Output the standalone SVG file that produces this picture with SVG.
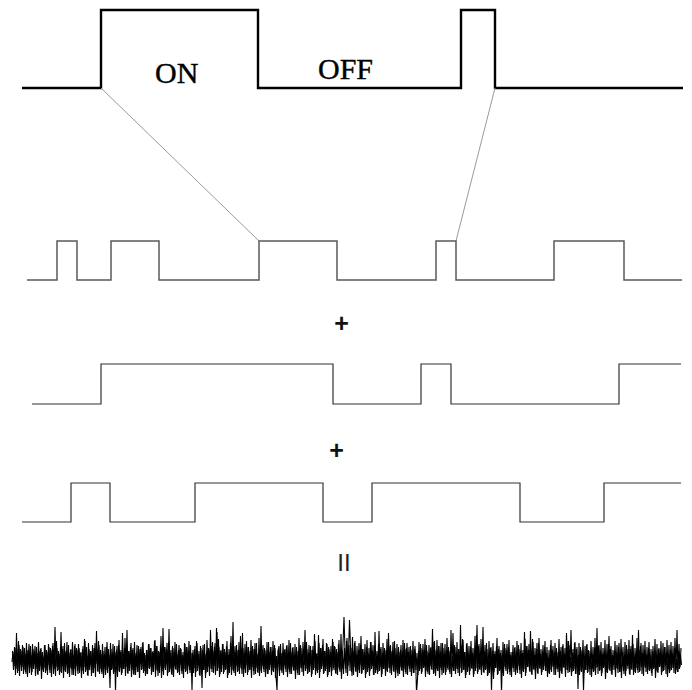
<svg xmlns="http://www.w3.org/2000/svg" width="692" height="690" viewBox="0 0 692 690">
  <style>
    .sig { fill: none; stroke-linejoin: miter; stroke-linecap: butt; }
    .main { stroke: #000; stroke-width: 2.4; }
    .comp1 { stroke: #5a5a5a; stroke-width: 1.5; }
    .comp { stroke: #333; stroke-width: 1.2; }
    .link { stroke: #9a9a9a; stroke-width: 1; fill: none; }
    .lbl { font-family: "Liberation Serif", "Times New Roman", serif; font-size: 30px; fill: #000; stroke: #000; stroke-width: 0.4; }
    .op { font-family: "Liberation Sans", Arial, sans-serif; font-size: 25px; font-weight: bold; fill: #111; text-anchor: middle; }
    .eq { font-family: "Liberation Sans", Arial, sans-serif; font-size: 24px; font-weight: normal; fill: #222; text-anchor: middle; }
    .trace { fill: none; stroke: #000; stroke-width: 1.1; stroke-linejoin: miter; }
  </style>
  <rect width="692" height="690" fill="#fff"/>

  <!-- total telegraph signal -->
  <g id="total-signal">
    <path class="sig main" d="M22,88 H101 V10 H258 V88 H461 V10 H495 V88 H683"/>
    <text class="lbl" x="155" y="83">ON</text>
    <text class="lbl" x="318" y="79">OFF</text>
  </g>

  <!-- zoom connectors from the top signal to the first component -->
  <g id="connectors">
    <line class="link" x1="101" y1="88" x2="259" y2="241"/>
    <line class="link" x1="495" y1="88" x2="456" y2="241"/>
  </g>

  <g id="component-1">
    <path class="sig comp1" d="M27,280 H57 V241 H77 V280 H111 V241 H159 V280 H259 V241 H337 V280 H436 V241 H456 V280 H554 V241 H624 V280 H682"/>
  </g>

  <g id="plus-1">
    <text class="op" x="341.5" y="332">+</text>
  </g>

  <g id="component-2">
    <path class="sig comp" d="M32,404 H101 V364 H333 V404 H421 V364 H451 V404 H619 V364 H681"/>
  </g>

  <g id="plus-2">
    <text class="op" x="336.5" y="459">+</text>
  </g>

  <g id="component-3">
    <path class="sig comp" d="M22,522 H71 V483 H110 V522 H195 V483 H323 V522 H372 V483 H520 V522 H604 V483 H681"/>
  </g>

  <g id="equals">
    <text class="eq" x="344" y="571">II</text>
  </g>

  <!-- summed noisy trace: one sampled run, overlaid with its time-reversed copy for density -->
  <g id="noise-trace">
    <defs>
      <polyline id="run" class="trace" points="12,662 13,652 14,666 15,648 16,669 17,656 18,671 19,645 20,665 21,651 22,667 23,647 24,670 25,654 26,674 27,650 28,663 29,644 30,668 31,655 32,672 33,649 34,664 35,646 36,669 37,653 38,675 39,651 40,666 41,648 42,670 43,657 44,668 45,645 46,671 47,652 48,665 49,647 50,673 51,650 52,664 53,643 54,669 55,627 56,667 57,648 58,670 59,654 60,672 61,632 62,666 63,646 64,671 65,651 66,663 67,642 68,673 69,653 70,668 71,649 72,675 73,655 74,669 75,644 76,666 77,650 78,674 79,648 80,662 81,652 82,671 83,646 84,667 85,641 86,670 87,656 88,676 89,649 90,665 91,651 92,673 93,648 94,668 95,643 96,664 97,650 98,672 99,645 100,669 101,654 102,674 103,651 104,666 105,647 106,670 107,642 108,667 109,655 110,688 111,649 112,669 113,644 114,672 115,652 116,665 117,646 118,671 119,640 120,668 121,650 122,673 123,654 124,669 125,638 126,667 127,630 128,674 129,651 130,664 131,643 132,670 133,648 134,675 135,653 136,666 137,645 138,672 139,649 140,663 141,647 142,669 143,642 144,671 145,655 146,674 147,650 148,668 149,644 150,667 151,648 152,672 153,651 154,665 155,640 156,670 157,646 158,676 159,652 160,666 161,636 162,671 163,628 164,668 165,647 166,664 167,643 168,673 169,629 170,669 171,650 172,675 173,648 174,667 175,642 176,670 177,654 178,672 179,645 180,665 181,649 182,674 183,652 184,669 185,644 186,671 187,647 188,666 189,641 190,673 191,653 192,690 193,650 194,668 195,646 196,672 197,643 198,665 199,651 200,676 201,648 202,688 203,645 204,670 205,654 206,673 207,640 208,667 209,649 210,669 211,646 212,672 213,651 214,666 215,643 216,671 217,632 218,668 219,647 220,674 221,650 222,665 223,644 224,672 225,652 226,669 227,641 228,675 229,649 230,667 231,636 232,670 233,622 234,673 235,646 236,666 237,650 238,671 239,642 240,668 241,653 242,674 243,648 244,669 245,644 246,665 247,647 248,672 249,651 250,670 251,640 252,667 253,649 254,675 255,643 256,668 257,654 258,673 259,638 260,671 261,626 262,666 263,645 264,672 265,650 266,669 267,642 268,674 269,652 270,665 271,647 272,671 273,641 274,668 275,648 276,676 277,690 278,651 279,646 280,670 281,653 282,673 283,643 284,666 285,649 286,672 287,645 288,669 289,640 290,674 291,652 292,667 293,647 294,671 295,644 296,670 297,651 298,675 299,638 300,668 301,648 302,672 303,642 304,665 305,630 306,669 307,649 308,673 309,645 310,666 311,650 312,674 313,646 314,668 315,641 316,671 317,653 318,670 319,643 320,672 321,648 322,666 323,639 324,673 325,651 326,669 327,644 328,675 329,649 330,667 331,646 332,671 333,642 334,670 335,647 336,674 337,652 338,668 339,640 340,672 341,634 342,669 343,644 344,617 345,650 346,673 347,638 348,666 349,645 350,671 351,648 352,676 353,651 354,667 355,641 356,672 357,646 358,670 359,643 360,665 361,636 362,673 363,649 364,669 365,644 366,674 367,640 368,668 369,648 370,671 371,642 372,666 373,645 374,675 375,632 376,670 377,651 378,672 379,631 380,667 381,647 382,674 383,643 384,669 385,650 386,671 387,639 388,668 389,646 390,673 391,651 392,665 393,642 394,672 395,648 396,670 397,644 398,676 399,652 400,667 401,645 402,671 403,640 404,669 405,649 406,674 407,643 408,666 409,647 410,672 411,650 412,668 413,641 414,673 415,646 416,670 417,653 418,675 419,642 420,669 421,648 422,672 423,644 424,667 425,639 426,671 427,651 428,674 429,645 430,666 431,647 432,670 433,642 434,673 435,650 436,669 437,640 438,671 439,646 440,668 441,643 442,675 443,648 444,667 445,644 446,672 447,638 448,670 449,651 450,674 451,630 452,666 453,633 454,671 455,647 456,669 457,642 458,673 459,649 460,668 461,645 462,672 463,640 464,670 465,652 466,675 467,643 468,667 469,646 470,671 471,641 472,669 473,648 474,674 475,636 476,668 477,625 478,672 479,644 480,670 481,639 482,666 483,627 484,673 485,645 486,669 487,649 488,675 489,641 490,667 491,647 492,671 493,643 494,672 495,651 496,668 497,638 498,674 499,646 500,670 501,650 502,673 503,642 504,667 505,648 506,671 507,644 508,669 509,640 510,675 511,652 512,668 513,645 514,672 515,647 516,670 517,641 518,666 519,649 520,674 521,643 522,671 523,650 524,669 525,639 526,673 527,646 528,667 529,644 530,672 531,651 532,675 533,642 534,670 535,648 536,668 537,643 538,674 539,638 540,669 541,649 542,672 543,645 544,666 545,641 546,671 547,647 548,673 549,650 550,670 551,640 552,667 553,646 554,675 555,643 556,669 557,652 558,672 559,639 560,671 561,647 562,674 563,644 564,668 565,648 566,670 567,641 568,673 569,645 570,666 571,630 572,672 573,649 574,669 575,642 576,674 577,647 578,689 579,643 580,671 581,650 582,667 583,640 584,673 585,646 586,670 587,644 588,672 589,651 590,675 591,641 592,669 593,647 594,671 595,638 596,668 597,628 598,674 599,645 600,670 601,642 602,673 603,648 604,667 605,640 606,672 607,644 608,669 609,636 610,671 611,646 612,675 613,650 614,670 615,641 616,668 617,645 618,673 619,643 620,672 621,639 622,666 623,647 624,674 625,642 626,671 627,649 628,669 629,640 630,675 631,646 632,670 633,644 634,672 635,648 636,668 637,638 638,673 639,650 640,671 641,643 642,674 643,645 644,667 645,641 646,672 647,647 648,670 649,642 650,669 651,649 652,676 653,646 654,668 655,639 656,671 657,644 658,673 659,648 660,666 661,641 662,672 663,643 664,670 665,647 666,674 667,640 668,669 669,645 670,671 671,642 672,668 673,646 674,673 675,638 676,670 677,630 678,672 679,644 680,667 681,648"/>
    </defs>
    <use href="#run"/>
    <use href="#run" transform="translate(693.5,3) scale(-1,1)"/>
  </g>
</svg>
